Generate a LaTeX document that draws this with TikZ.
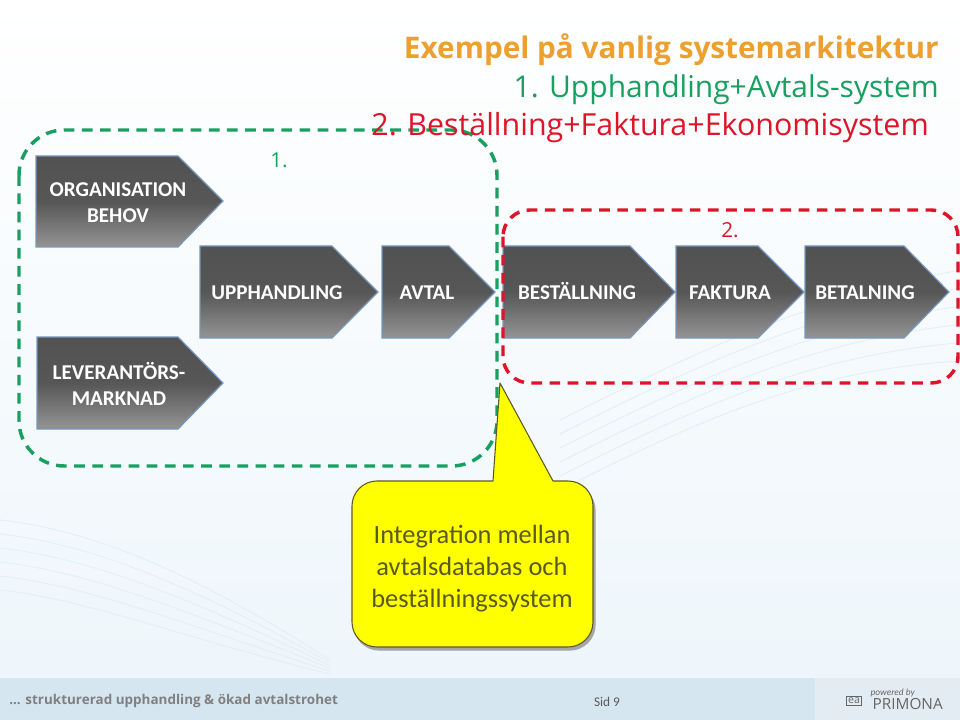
\documentclass[tikz,border=0pt]{standalone}
\usepackage{fontspec}
\setmainfont{Carlito}
\newfontfamily\headfont{Open Sans}
\usetikzlibrary{shadows}
\definecolor{boxgreen}{RGB}{24,160,96}
\definecolor{boxred}{RGB}{222,20,40}
\definecolor{headorange}{RGB}{236,160,48}
\definecolor{stepedge}{RGB}{120,150,190}
\definecolor{callyellow}{RGB}{255,255,0}
\definecolor{calltextc}{RGB}{90,90,32}
\definecolor{footband}{RGB}{214,230,241}
\definecolor{footblock}{RGB}{228,236,243}
\definecolor{pagelow}{RGB}{238,246,251}
\definecolor{wispc}{RGB}{226,238,246}
\tikzset{
  pentbox/.style={draw=stepedge,line width=0.9pt,top color=black!68,bottom color=black!42,middle color=black!66},
  steptext/.style={anchor=base,inner sep=0.75pt,align=center,text=white,font=\bfseries\fontsize{15.8}{19.5}\selectfont},
  headline/.style={anchor=base east,inner sep=0.75pt,font=\headfont\fontsize{22.5}{27}\selectfont},
  wisp/.style={draw=wispc,line width=0.6pt},
}
\begin{document}
\begin{tikzpicture}[x=0.75pt,y=0.75pt,yscale=-1,xscale=1]
\useasboundingbox (0,0) rectangle (960,720);

%Background
\fill [top color=white,bottom color=pagelow] (0,0) rectangle (960,678);
\fill [footband] (0,678) rectangle (960,720);
\fill [footblock] (815,678) rectangle (960,720);
%Wisps
\foreach \y in {0,14,...,70} {
  \draw [wisp] (560,420+\y) .. controls (680,360+\y) and (800,300+\y) .. (960,270+\y*1.3);
  \draw [wisp] (0,520+\y) .. controls (90,530+\y) and (190,570+\y) .. (330,660+\y*0.2);
}

%Shape: Steps
\draw [pentbox] (36,156) -- (178,156) -- (223,201) -- (178,247) -- (36,247) -- cycle;
\draw [pentbox] (37,337) -- (178,337) -- (223,383) -- (178,429) -- (37,429) -- cycle;
\draw [pentbox] (200,246) -- (332,246) -- (378,292) -- (332,338) -- (200,338) -- cycle;
\draw [pentbox] (382,246) -- (449,246) -- (495,292) -- (449,338) -- (382,338) -- cycle;
\draw [pentbox] (503,246) -- (630,246) -- (675,292) -- (630,338) -- (503,338) -- cycle;
\draw [pentbox] (676,246) -- (758,246) -- (804,292) -- (758,338) -- (676,338) -- cycle;
\draw [pentbox] (805,246) -- (904,246) -- (949,292) -- (904,338) -- (805,338) -- cycle;

%Shape: Dashed frames
\draw [boxgreen,line width=2.6pt,dash pattern=on 8pt off 5.6pt,rounded corners=34pt] (19,130) rectangle (497,466);
\draw [boxred,line width=2.6pt,dash pattern=on 8pt off 5.6pt,rounded corners=20pt] (503,210) rectangle (958,383);

%Shape: Callout
\draw [black!35,fill=black!35,line width=1pt,rounded corners=19pt] (354,485) rectangle (595,650);
\draw [draw=black!45!olive,fill=callyellow,line width=0.8pt,line join=round]
  (500,383) -- (553,481) -- (568,481) arc (-90:0:25) -- (593,622) arc (0:90:25) -- (377,647) arc (90:180:25) -- (352,506) arc (180:270:25) -- (493,481) -- cycle;

% Text Node
\node (orgbehov) [steptext] at (118,223) {ORGANISATION\\BEHOV};
\node (levmarknad) [steptext] at (119,405) {LEVERANTÖRS-\\MARKNAD};
\node (upphandling) [steptext] at (277,300) {UPPHANDLING};
\node (avtal) [steptext] at (427,300) {AVTAL};
\node (bestallning) [steptext] at (577,300) {BESTÄLLNING};
\node (faktura) [steptext] at (730,300) {FAKTURA};
\node (betalning) [steptext] at (865,300) {BETALNING};

\node (head) [headline,text=headorange,font=\headfont\bfseries\fontsize{22.3}{27}\selectfont] at (940,59) {Exempel på vanlig systemarkitektur};
\node (headone) [headline,text=boxgreen] at (940,98) {1. Upphandling+Avtals-system};
\node (headtwo) [headline,text=boxred,font=\headfont\fontsize{22.8}{27}\selectfont] at (930,136) {2. Beställning+Faktura+Ekonomisystem};
\node (markone) [inner sep=0.75pt,text=boxgreen,font=\headfont\fontsize{15.5}{19}\selectfont] at (279,160) {1.};
\node (marktwo) [inner sep=0.75pt,text=boxred,font=\headfont\fontsize{15.5}{19}\selectfont] at (730,230) {2.};

\node (calltext) [inner sep=0.75pt,align=center,text=calltextc,font=\fontsize{19.8}{24}\selectfont] at (472,569) {Integration mellan\\avtalsdatabas och\\beställningssystem};

\node (foottext) [anchor=west,inner sep=0.75pt,text=black!50,font=\headfont\bfseries\fontsize{10.1}{12}\selectfont] at (8,701) {... strukturerad upphandling \& ökad avtalstrohet};
\node (sida) [inner sep=0.75pt,text=black!65,font=\fontsize{10}{12}\selectfont] at (607,702) {Sid 9};
\node (powered) [anchor=east,inner sep=0.75pt,text=black!60,font=\itshape\fontsize{7}{8}\selectfont] at (916,693) {powered by};
\node (primona) [anchor=east,inner sep=0.75pt,text=black!60,font=\headfont\fontsize{11.5}{13}\selectfont] at (944,704) {PRIMONA};
\node (logo) [draw=black!60,line width=0.7pt,inner sep=1.2pt,text=black!60,font=\headfont\fontsize{8}{9}\selectfont] at (854,701) {ea};

\end{tikzpicture}
\end{document}
